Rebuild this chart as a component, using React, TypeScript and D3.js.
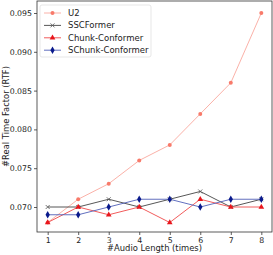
import { useEffect, useRef } from "react";
import * as d3 from "d3";

const lengths = [1, 2, 3, 4, 5, 6, 7, 8];
const u2 = [0.068, 0.071, 0.073, 0.076, 0.078, 0.082, 0.086, 0.095];
const sscformer = [0.07, 0.07, 0.071, 0.07, 0.071, 0.072, 0.07, 0.071];
const chunkConformer = [0.068, 0.07, 0.069, 0.07, 0.068, 0.071, 0.07, 0.07];
const schunkConformer = [0.069, 0.069, 0.07, 0.071, 0.071, 0.07, 0.071, 0.071];
const yTicks = [0.07, 0.075, 0.08, 0.085, 0.09, 0.095];

const series = [
  { name: "U2", values: u2, color: "#f87a6a", line: "#f9a89e", marker: "circle" },
  { name: "SSCFormer", values: sscformer, color: "#555", line: "#444", marker: "x" },
  { name: "Chunk-Conformer", values: chunkConformer, color: "#e8161c", line: "#ef4a4a", marker: "triangle" },
  { name: "SChunk-Conformer", values: schunkConformer, color: "#0a1a8c", line: "#5060b8", marker: "diamond" },
];

const App = () => {
  const svgRef = useRef<SVGSVGElement>(null);

  useEffect(() => {
    const width = 273;
    const height = 255;
    const left = 37, right = 272, top = 1, bottom = 232;

    const svg = d3.select(svgRef.current)
      .attr("width", width)
      .attr("height", height)
      .style("font-family", "'DejaVu Sans', sans-serif");
    svg.selectAll("*").remove();

    const x = d3.scaleLinear().domain([0.65, 8.35]).range([left, right]);
    const y = d3.scaleLinear().domain([0.07, 0.095]).range([207, 13]);

    svg.append("rect")
      .attr("x", left).attr("y", top)
      .attr("width", right - left).attr("height", bottom - top)
      .attr("fill", "none").attr("stroke", "#333").attr("stroke-width", 0.8);

    const xAxis = svg.append("g")
      .attr("transform", `translate(0,${bottom})`)
      .call(d3.axisBottom(x).tickValues(lengths).tickSize(3).tickPadding(2).tickFormat(d3.format("d")));
    const yAxis = svg.append("g")
      .attr("transform", `translate(${left},0)`)
      .call(d3.axisLeft(y).tickValues(yTicks).tickSize(3).tickPadding(2).tickFormat(d3.format(".3f")));
    [xAxis, yAxis].forEach((a) => {
      a.select(".domain").remove();
      a.selectAll("line").attr("stroke", "#333").attr("stroke-width", 0.8);
      a.selectAll("text").attr("font-size", 7.8).attr("fill", "#222").attr("font-family", "'DejaVu Sans', sans-serif");
    });

    svg.append("text")
      .attr("x", (left + right) / 2).attr("y", 251)
      .attr("text-anchor", "middle").attr("font-size", 8.4).attr("fill", "#222")
      .text("#Audio Length (times)");
    svg.append("text")
      .attr("transform", `translate(9,${(top + bottom) / 2}) rotate(-90)`)
      .attr("text-anchor", "middle").attr("font-size", 8.4).attr("fill", "#222")
      .text("#Real Time Factor (RTF)");

    const drawMarker = (g: any, kind: string, cx: number, cy: number, color: string) => {
      if (kind === "circle") {
        g.append("circle").attr("cx", cx).attr("cy", cy).attr("r", 2).attr("fill", color);
      } else if (kind === "x") {
        g.append("path")
          .attr("d", `M${cx - 2},${cy - 2}L${cx + 2},${cy + 2}M${cx - 2},${cy + 2}L${cx + 2},${cy - 2}`)
          .attr("stroke", color).attr("stroke-width", 0.8);
      } else if (kind === "triangle") {
        g.append("path")
          .attr("d", d3.symbol(d3.symbolTriangle, 14)())
          .attr("transform", `translate(${cx},${cy})`).attr("fill", color);
      } else {
        g.append("path")
          .attr("d", d3.symbol(d3.symbolDiamond, 16)())
          .attr("transform", `translate(${cx},${cy})`).attr("fill", color);
      }
    };

    const line = d3.line<number>().x((_, i) => x(lengths[i])).y((d) => y(d));

    series.forEach((s) => {
      const g = svg.append("g");
      g.append("path").attr("d", line(s.values)).attr("fill", "none")
        .attr("stroke", s.line).attr("stroke-width", 0.9);
      s.values.forEach((v, i) => drawMarker(g, s.marker, x(lengths[i]), y(v), s.color));
    });

    const legend = svg.append("g");
    legend.append("rect")
      .attr("x", 40).attr("y", 5).attr("width", 111).attr("height", 52)
      .attr("rx", 2).attr("fill", "white").attr("fill-opacity", 0.8)
      .attr("stroke", "#ddd").attr("stroke-width", 0.7);
    series.forEach((s, i) => {
      const ly = 13 + i * 12.4;
      legend.append("line").attr("x1", 44).attr("x2", 61).attr("y1", ly).attr("y2", ly)
        .attr("stroke", s.line).attr("stroke-width", 0.9);
      drawMarker(legend, s.marker, 52.5, ly, s.color);
      legend.append("text").attr("x", 68).attr("y", ly + 3)
        .attr("font-size", 8.5).attr("fill", "#222").text(s.name);
    });
  }, []);

  return <svg ref={svgRef} style={{ position: "absolute", left: 0, top: 0 }}></svg>;
};

export default App;
